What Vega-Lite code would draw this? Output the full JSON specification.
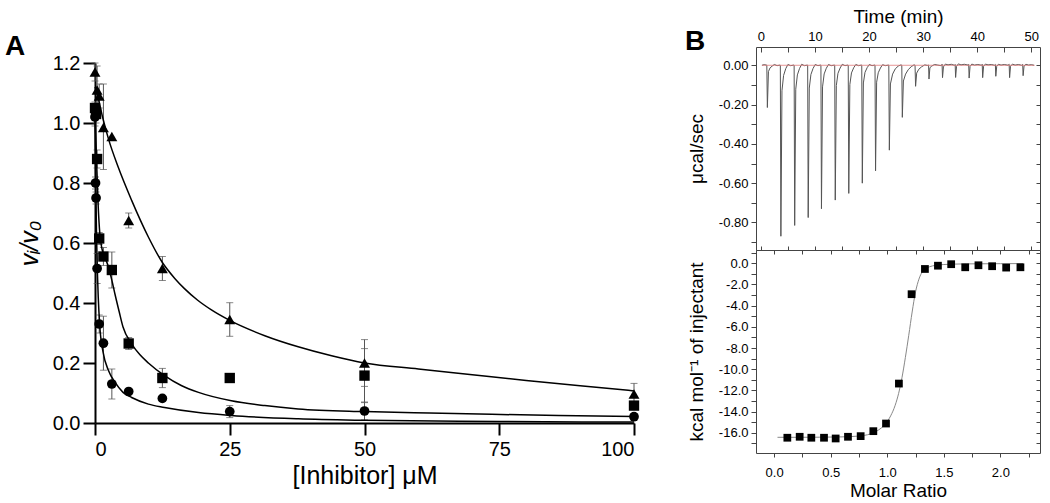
{
  "$schema": "https://vega.github.io/schema/vega-lite/v6.json",
  "padding": {"left": 5, "top": 7, "right": 0, "bottom": 0},
  "background": "white",
  "config": {
    "font": "Liberation Sans",
    "view": {"stroke": null},
    "axis": {"grid": false, "labelColor": "black", "titleColor": "black", "titleFontWeight": "normal", "labelFont": "Liberation Sans", "titleFont": "Liberation Sans"},
    "title": {"color": "black", "font": "Liberation Sans"}
  },
  "datasets": {
    "A_points": [
      {"s": "tri", "x": 0, "y": 1.17, "lo": 1.14, "hi": 1.2},
      {"s": "tri", "x": 0.39, "y": 1.11, "lo": 1.03, "hi": 1.19},
      {"s": "tri", "x": 0.78, "y": 1.09, "lo": 1.05, "hi": 1.13},
      {"s": "tri", "x": 1.56, "y": 0.985, "lo": 0.845, "hi": 1.13},
      {"s": "tri", "x": 3.125, "y": 0.955, "lo": null, "hi": null},
      {"s": "tri", "x": 6.25, "y": 0.675, "lo": 0.65, "hi": 0.7},
      {"s": "tri", "x": 12.5, "y": 0.515, "lo": 0.475, "hi": 0.555},
      {"s": "tri", "x": 25, "y": 0.345, "lo": 0.289, "hi": 0.401},
      {"s": "tri", "x": 50, "y": 0.2, "lo": 0.122, "hi": 0.278},
      {"s": "tri", "x": 100, "y": 0.097, "lo": 0.062, "hi": 0.132},
      {"s": "sq", "x": 0, "y": 1.05, "lo": 1.03, "hi": 1.07},
      {"s": "sq", "x": 0.195, "y": 1.03, "lo": 1.0, "hi": 1.06},
      {"s": "sq", "x": 0.39, "y": 0.88, "lo": 0.85, "hi": 0.91},
      {"s": "sq", "x": 0.78, "y": 0.615, "lo": 0.595, "hi": 0.635},
      {"s": "sq", "x": 1.56, "y": 0.555, "lo": 0.525, "hi": 0.585},
      {"s": "sq", "x": 3.125, "y": 0.51, "lo": 0.45, "hi": 0.57},
      {"s": "sq", "x": 6.25, "y": 0.265, "lo": 0.245, "hi": 0.285},
      {"s": "sq", "x": 12.5, "y": 0.15, "lo": 0.118, "hi": 0.182},
      {"s": "sq", "x": 25, "y": 0.15, "lo": 0.135, "hi": 0.165},
      {"s": "sq", "x": 50, "y": 0.158, "lo": 0.068, "hi": 0.248},
      {"s": "sq", "x": 100, "y": 0.058, "lo": 0.046, "hi": 0.07},
      {"s": "ci", "x": 0, "y": 1.02, "lo": 0.99, "hi": 1.05},
      {"s": "ci", "x": 0.098, "y": 0.8, "lo": 0.78, "hi": 0.82},
      {"s": "ci", "x": 0.195, "y": 0.75, "lo": 0.73, "hi": 0.77},
      {"s": "ci", "x": 0.39, "y": 0.515, "lo": 0.465, "hi": 0.565},
      {"s": "ci", "x": 0.78, "y": 0.33, "lo": 0.3, "hi": 0.36},
      {"s": "ci", "x": 1.56, "y": 0.266, "lo": 0.176, "hi": 0.356},
      {"s": "ci", "x": 3.125, "y": 0.13, "lo": 0.08, "hi": 0.18},
      {"s": "ci", "x": 6.25, "y": 0.105, "lo": null, "hi": null},
      {"s": "ci", "x": 12.5, "y": 0.082, "lo": null, "hi": null},
      {"s": "ci", "x": 25, "y": 0.038, "lo": 0.018, "hi": 0.058},
      {"s": "ci", "x": 50, "y": 0.04, "lo": 0.01, "hi": 0.07},
      {"s": "ci", "x": 100, "y": 0.021, "lo": 0.011, "hi": 0.031}
    ],
    "A_curves": [
      {"s": "tri", "x": 0, "y": 1.12}, {"s": "tri", "x": 0.5, "y": 1.09}, {"s": "tri", "x": 1.4, "y": 1.02},
      {"s": "tri", "x": 2.5, "y": 0.947}, {"s": "tri", "x": 4.3, "y": 0.853}, {"s": "tri", "x": 6.8, "y": 0.742},
      {"s": "tri", "x": 9.9, "y": 0.62}, {"s": "tri", "x": 12.5, "y": 0.535}, {"s": "tri", "x": 14.8, "y": 0.482},
      {"s": "tri", "x": 16.6, "y": 0.448}, {"s": "tri", "x": 19, "y": 0.41}, {"s": "tri", "x": 21.6, "y": 0.377}, {"s": "tri", "x": 25, "y": 0.342},
      {"s": "tri", "x": 31.5, "y": 0.291}, {"s": "tri", "x": 37.7, "y": 0.254}, {"s": "tri", "x": 43.9, "y": 0.224},
      {"s": "tri", "x": 50, "y": 0.2}, {"s": "tri", "x": 60, "y": 0.18}, {"s": "tri", "x": 70, "y": 0.161},
      {"s": "tri", "x": 80, "y": 0.142}, {"s": "tri", "x": 90, "y": 0.124}, {"s": "tri", "x": 100, "y": 0.107},
      {"s": "sq", "x": 0, "y": 1.04}, {"s": "sq", "x": 0.3, "y": 0.87}, {"s": "sq", "x": 0.6, "y": 0.72},
      {"s": "sq", "x": 0.9, "y": 0.63}, {"s": "sq", "x": 1.3, "y": 0.58}, {"s": "sq", "x": 1.9, "y": 0.55},
      {"s": "sq", "x": 2.5, "y": 0.52}, {"s": "sq", "x": 3.2, "y": 0.47}, {"s": "sq", "x": 3.7, "y": 0.43},
      {"s": "sq", "x": 4.5, "y": 0.37}, {"s": "sq", "x": 5.2, "y": 0.32}, {"s": "sq", "x": 6.8, "y": 0.264},
      {"s": "sq", "x": 8.3, "y": 0.228}, {"s": "sq", "x": 9.9, "y": 0.2}, {"s": "sq", "x": 12.9, "y": 0.158},
      {"s": "sq", "x": 16, "y": 0.125}, {"s": "sq", "x": 19.2, "y": 0.102}, {"s": "sq", "x": 25.3, "y": 0.074},
      {"s": "sq", "x": 31.5, "y": 0.058}, {"s": "sq", "x": 37.7, "y": 0.047}, {"s": "sq", "x": 50, "y": 0.038},
      {"s": "sq", "x": 62, "y": 0.033}, {"s": "sq", "x": 73.6, "y": 0.029}, {"s": "sq", "x": 86, "y": 0.025},
      {"s": "sq", "x": 100, "y": 0.022},
      {"s": "ci", "x": 0, "y": 1.02}, {"s": "ci", "x": 0.1, "y": 0.85}, {"s": "ci", "x": 0.2, "y": 0.72},
      {"s": "ci", "x": 0.3, "y": 0.61}, {"s": "ci", "x": 0.45, "y": 0.5}, {"s": "ci", "x": 0.6, "y": 0.42},
      {"s": "ci", "x": 0.9, "y": 0.32}, {"s": "ci", "x": 1.5, "y": 0.236}, {"s": "ci", "x": 2.5, "y": 0.175},
      {"s": "ci", "x": 3.7, "y": 0.136}, {"s": "ci", "x": 5.2, "y": 0.102}, {"s": "ci", "x": 6.8, "y": 0.085},
      {"s": "ci", "x": 9.9, "y": 0.063}, {"s": "ci", "x": 12.9, "y": 0.052}, {"s": "ci", "x": 19.2, "y": 0.035},
      {"s": "ci", "x": 25.3, "y": 0.025}, {"s": "ci", "x": 37.7, "y": 0.014}, {"s": "ci", "x": 50, "y": 0.009},
      {"s": "ci", "x": 75, "y": 0.005}, {"s": "ci", "x": 100, "y": 0.003}
    ],
    "B_trace": [
      {"t": 0.2, "p": 0.0}, {"t": 0.6, "p": 0.003}, {"t": 1.05, "p": 0.001},
      {"t": 1.1, "p": 0.0}, {"t": 1.2, "p": -0.215}, {"t": 1.4, "p": -0.032}, {"t": 1.7, "p": -0.013}, {"t": 2.1, "p": -0.004}, {"t": 2.5, "p": 0.004}, {"t": 3.0, "p": -0.002},
      {"t": 3.55, "p": 0.001}, {"t": 3.6, "p": 0.0}, {"t": 3.7, "p": -0.87}, {"t": 3.9, "p": -0.13}, {"t": 4.2, "p": -0.052}, {"t": 4.6, "p": -0.017}, {"t": 5.0, "p": 0.004}, {"t": 5.5, "p": -0.002},
      {"t": 6.1, "p": 0.001}, {"t": 6.15, "p": 0.0}, {"t": 6.25, "p": -0.815}, {"t": 6.45, "p": -0.122}, {"t": 6.75, "p": -0.049}, {"t": 7.15, "p": -0.016}, {"t": 7.55, "p": 0.005}, {"t": 8.05, "p": -0.002},
      {"t": 8.6, "p": 0.001}, {"t": 8.65, "p": 0.0}, {"t": 8.75, "p": -0.775}, {"t": 8.95, "p": -0.116}, {"t": 9.25, "p": -0.047}, {"t": 9.65, "p": -0.016}, {"t": 10.05, "p": 0.004}, {"t": 10.55, "p": -0.002},
      {"t": 11.05, "p": 0.001}, {"t": 11.1, "p": 0.0}, {"t": 11.2, "p": -0.73}, {"t": 11.4, "p": -0.11}, {"t": 11.7, "p": -0.044}, {"t": 12.1, "p": -0.015}, {"t": 12.5, "p": 0.004}, {"t": 13.0, "p": -0.002},
      {"t": 13.6, "p": 0.001}, {"t": 13.65, "p": 0.0}, {"t": 13.75, "p": -0.686}, {"t": 13.95, "p": -0.103}, {"t": 14.25, "p": -0.041}, {"t": 14.65, "p": -0.014}, {"t": 15.05, "p": 0.005}, {"t": 15.55, "p": -0.002},
      {"t": 16.1, "p": 0.001}, {"t": 16.15, "p": 0.0}, {"t": 16.25, "p": -0.652}, {"t": 16.45, "p": -0.098}, {"t": 16.75, "p": -0.039}, {"t": 17.15, "p": -0.013}, {"t": 17.55, "p": 0.004}, {"t": 18.05, "p": -0.002},
      {"t": 18.6, "p": 0.001}, {"t": 18.65, "p": 0.0}, {"t": 18.75, "p": -0.6}, {"t": 18.95, "p": -0.09}, {"t": 19.25, "p": -0.036}, {"t": 19.65, "p": -0.012}, {"t": 20.05, "p": 0.004}, {"t": 20.55, "p": -0.002},
      {"t": 21.05, "p": 0.001}, {"t": 21.1, "p": 0.0}, {"t": 21.2, "p": -0.537}, {"t": 21.4, "p": -0.086}, {"t": 21.7, "p": -0.038}, {"t": 22.1, "p": -0.014}, {"t": 22.5, "p": 0.003}, {"t": 23.0, "p": -0.002},
      {"t": 23.6, "p": 0.001}, {"t": 23.65, "p": 0.0}, {"t": 23.75, "p": -0.432}, {"t": 23.95, "p": -0.095}, {"t": 24.35, "p": -0.045}, {"t": 24.85, "p": -0.018}, {"t": 25.4, "p": -0.004}, {"t": 25.9, "p": 0.002},
      {"t": 26.0, "p": 0.001}, {"t": 26.05, "p": 0.0}, {"t": 26.15, "p": -0.265}, {"t": 26.35, "p": -0.08}, {"t": 26.75, "p": -0.045}, {"t": 27.25, "p": -0.022}, {"t": 27.8, "p": -0.007}, {"t": 28.3, "p": 0.002},
      {"t": 28.45, "p": 0.001}, {"t": 28.5, "p": 0.0}, {"t": 28.6, "p": -0.107}, {"t": 28.8, "p": -0.04}, {"t": 29.2, "p": -0.02}, {"t": 29.7, "p": -0.008}, {"t": 30.3, "p": 0.002}, {"t": 30.8, "p": -0.001},
      {"t": 30.95, "p": 0.002}, {"t": 31.0, "p": 0.0}, {"t": 31.08, "p": -0.07}, {"t": 31.25, "p": -0.012}, {"t": 31.6, "p": -0.004}, {"t": 32.1, "p": 0.004}, {"t": 32.7, "p": 0.001}, {"t": 33.3, "p": -0.002},
      {"t": 33.45, "p": 0.001}, {"t": 33.5, "p": 0.005}, {"t": 33.58, "p": -0.063}, {"t": 33.75, "p": -0.008}, {"t": 34.1, "p": 0.006}, {"t": 34.6, "p": 0.002}, {"t": 35.2, "p": 0.005}, {"t": 35.8, "p": 0.0},
      {"t": 35.92, "p": 0.004}, {"t": 36.0, "p": -0.062}, {"t": 36.17, "p": -0.006}, {"t": 36.5, "p": 0.007}, {"t": 37.0, "p": 0.002}, {"t": 37.6, "p": 0.005}, {"t": 38.3, "p": 0.001},
      {"t": 38.42, "p": 0.004}, {"t": 38.5, "p": -0.065}, {"t": 38.67, "p": -0.006}, {"t": 39.0, "p": 0.006}, {"t": 39.5, "p": 0.001}, {"t": 40.1, "p": 0.004}, {"t": 40.8, "p": 0.0},
      {"t": 40.92, "p": 0.005}, {"t": 41.0, "p": -0.063}, {"t": 41.17, "p": -0.005}, {"t": 41.5, "p": 0.006}, {"t": 42.0, "p": 0.002}, {"t": 42.6, "p": 0.004}, {"t": 43.2, "p": 0.0},
      {"t": 43.35, "p": 0.004}, {"t": 43.43, "p": -0.056}, {"t": 43.6, "p": -0.005}, {"t": 43.9, "p": 0.005}, {"t": 44.4, "p": 0.001}, {"t": 45.0, "p": 0.004}, {"t": 45.7, "p": 0.0},
      {"t": 45.9, "p": 0.005}, {"t": 45.98, "p": -0.063}, {"t": 46.15, "p": -0.005}, {"t": 46.5, "p": 0.006}, {"t": 47.0, "p": 0.001}, {"t": 47.6, "p": 0.004}, {"t": 48.2, "p": 0.0},
      {"t": 48.4, "p": 0.004}, {"t": 48.48, "p": -0.053}, {"t": 48.65, "p": -0.004}, {"t": 49.0, "p": 0.005}, {"t": 49.5, "p": 0.001}, {"t": 50.0, "p": 0.003}, {"t": 50.5, "p": 0.0}
    ],
    "B_base": [{"t": 0.2, "p": 0}, {"t": 50.6, "p": 0}],
    "B_fit": [
      {"m": 0.03, "h": -16.42}, {"m": 0.2, "h": -16.42}, {"m": 0.4, "h": -16.41}, {"m": 0.6, "h": -16.38},
      {"m": 0.75, "h": -16.3}, {"m": 0.85, "h": -16.1}, {"m": 0.92, "h": -15.75}, {"m": 0.98, "h": -15.2},
      {"m": 1.03, "h": -14.4}, {"m": 1.07, "h": -13.4}, {"m": 1.1, "h": -12.3}, {"m": 1.13, "h": -10.8},
      {"m": 1.16, "h": -8.9}, {"m": 1.19, "h": -6.8}, {"m": 1.22, "h": -4.6}, {"m": 1.25, "h": -2.7},
      {"m": 1.28, "h": -1.5}, {"m": 1.31, "h": -0.8}, {"m": 1.35, "h": -0.45}, {"m": 1.4, "h": -0.25},
      {"m": 1.5, "h": -0.12}, {"m": 1.7, "h": -0.06}, {"m": 2.0, "h": -0.04}, {"m": 2.2, "h": -0.03}
    ],
    "B_pts": [
      {"m": 0.117, "h": -16.46}, {"m": 0.226, "h": -16.37}, {"m": 0.329, "h": -16.46}, {"m": 0.441, "h": -16.46},
      {"m": 0.544, "h": -16.53}, {"m": 0.653, "h": -16.37}, {"m": 0.765, "h": -16.31}, {"m": 0.877, "h": -15.84},
      {"m": 0.989, "h": -15.12}, {"m": 1.103, "h": -11.35}, {"m": 1.215, "h": -2.92}, {"m": 1.333, "h": -0.54},
      {"m": 1.448, "h": -0.23}, {"m": 1.565, "h": -0.09}, {"m": 1.689, "h": -0.38}, {"m": 1.806, "h": -0.19},
      {"m": 1.927, "h": -0.28}, {"m": 2.051, "h": -0.41}, {"m": 2.177, "h": -0.38}
    ],
    "empty": []
  },
  "spacing": 45,
  "hconcat": [
    {
      "spacing": 0,
      "bounds": "flush",
      "vconcat": [
        {
          "width": 539,
          "height": 16,
          "data": {"name": "empty"},
          "mark": "point",
          "encoding": {}
        },
        {
          "width": 539,
          "height": 360,
          "title": {"text": "A", "anchor": "start", "frame": "group", "fontSize": 28, "fontWeight": "bold", "dx": -90, "offset": -8},
          "layer": [
            {
              "data": {"name": "A_points"},
              "transform": [{"filter": "isValid(datum.lo)"}],
              "mark": {"type": "errorbar", "ticks": {"size": 7}, "color": "#555", "thickness": 1},
              "encoding": {
                "x": {"field": "x", "type": "quantitative", "scale": {"domain": [0, 100], "nice": false},
                  "axis": {"values": [0, 25, 50, 75, 100], "title": "[Inhibitor] μM", "domainWidth": 2, "domainColor": "black", "tickWidth": 2, "tickColor": "black", "tickSize": 12, "labelFontSize": 20, "titleFontSize": 25, "labelPadding": 4, "titlePadding": 4}},
                "y": {"field": "lo", "type": "quantitative", "scale": {"domain": [0, 1.2], "nice": false},
                  "axis": {"values": [0, 0.2, 0.4, 0.6, 0.8, 1.0, 1.2], "format": ".1f", "title": "vᵢ/v₀", "titleFontStyle": "italic", "domainWidth": 2, "domainColor": "black", "tickWidth": 2, "tickColor": "black", "tickSize": 12, "labelFontSize": 20, "titleFontSize": 25, "labelPadding": 3, "titlePadding": 10}},
                "y2": {"field": "hi"}
              }
            },
            {
              "data": {"name": "A_curves"},
              "mark": {"type": "line", "color": "black", "strokeWidth": 1.5, "interpolate": "monotone"},
              "encoding": {
                "x": {"field": "x", "type": "quantitative", "scale": {"domain": [0, 100], "nice": false},
                  "axis": {"values": [0, 25, 50, 75, 100], "title": "[Inhibitor] μM", "domainWidth": 2, "domainColor": "black", "tickWidth": 2, "tickColor": "black", "tickSize": 12, "labelFontSize": 20, "titleFontSize": 25, "labelPadding": 4, "titlePadding": 4}},
                "y": {"field": "y", "type": "quantitative", "scale": {"domain": [0, 1.2], "nice": false},
                  "axis": {"values": [0, 0.2, 0.4, 0.6, 0.8, 1.0, 1.2], "format": ".1f", "title": "vᵢ/v₀", "titleFontStyle": "italic", "domainWidth": 2, "domainColor": "black", "tickWidth": 2, "tickColor": "black", "tickSize": 12, "labelFontSize": 20, "titleFontSize": 25, "labelPadding": 3, "titlePadding": 10}},
                "detail": {"field": "s"}
              }
            },
            {
              "data": {"name": "A_points"},
              "mark": {"type": "point", "filled": true, "color": "black", "opacity": 1},
              "encoding": {
                "x": {"field": "x", "type": "quantitative", "scale": {"domain": [0, 100], "nice": false},
                  "axis": {"values": [0, 25, 50, 75, 100], "title": "[Inhibitor] μM", "domainWidth": 2, "domainColor": "black", "tickWidth": 2, "tickColor": "black", "tickSize": 12, "labelFontSize": 20, "titleFontSize": 25, "labelPadding": 4, "titlePadding": 4}},
                "y": {"field": "y", "type": "quantitative", "scale": {"domain": [0, 1.2], "nice": false},
                  "axis": {"values": [0, 0.2, 0.4, 0.6, 0.8, 1.0, 1.2], "format": ".1f", "title": "vᵢ/v₀", "titleFontStyle": "italic", "domainWidth": 2, "domainColor": "black", "tickWidth": 2, "tickColor": "black", "tickSize": 12, "labelFontSize": 20, "titleFontSize": 25, "labelPadding": 3, "titlePadding": 10}},
                "shape": {"field": "s", "type": "nominal", "scale": {"domain": ["tri", "sq", "ci"], "range": ["triangle-up", "square", "circle"]}, "legend": null},
                "size": {"field": "s", "type": "nominal", "scale": {"domain": ["tri", "sq", "ci"], "range": [120, 95, 90]}, "legend": null}
              }
            }
          ]
        }
      ]
    },
    {
      "spacing": 0,
      "bounds": "flush",
      "vconcat": [
        {
          "width": 284,
          "height": 203,
          "title": {"text": "B", "anchor": "start", "frame": "group", "fontSize": 28, "fontWeight": "bold", "dx": -71, "dy": 49, "offset": 0},
          "layer": [
            {
              "data": {"name": "B_trace"},
              "mark": {"type": "line", "color": "#555", "strokeWidth": 1},
              "encoding": {
                "x": {"field": "t", "type": "quantitative", "scale": {"domain": [-0.9, 51.6], "nice": false, "zero": false},
                  "axis": {"orient": "bottom", "values": [0, 5, 10, 15, 20, 25, 30, 35, 40, 45, 50], "labels": false, "title": null, "tickSize": -4, "domainColor": "#444", "tickColor": "#444"}},
                "y": {"field": "p", "type": "quantitative", "scale": {"domain": [-0.94, 0.093], "nice": false, "zero": false},
                  "axis": {"orient": "right", "values": [-0.9, -0.8, -0.7, -0.6, -0.5, -0.4, -0.3, -0.2, -0.1, 0], "labels": false, "title": null, "tickSize": -4, "domainColor": "#444", "tickColor": "#444"}}
              }
            },
            {
              "data": {"name": "B_base"},
              "mark": {"type": "line", "color": "#e07a7a", "strokeWidth": 1, "opacity": 0.8},
              "encoding": {
                "x": {"field": "t", "type": "quantitative", "scale": {"domain": [-0.9, 51.6], "nice": false, "zero": false},
                  "axis": {"orient": "top", "values": [0, 5, 10, 15, 20, 25, 30, 35, 40, 45, 50], "labelExpr": "datum.value % 10 == 0 ? datum.label : ''", "title": "Time (min)", "tickSize": -5, "labelPadding": 9, "labelFontSize": 13, "titleFontSize": 19, "titlePadding": 4, "domainColor": "#444", "tickColor": "#444"}},
                "y": {"field": "p", "type": "quantitative", "scale": {"domain": [-0.94, 0.093], "nice": false, "zero": false},
                  "axis": {"orient": "left", "values": [-0.9, -0.8, -0.7, -0.6, -0.5, -0.4, -0.3, -0.2, -0.1, 0], "labelExpr": "abs(round(datum.value*10)) % 2 == 0 ? replace(format(datum.value, '.2f'), '\u2212', '-') : ''", "title": "μcal/sec", "tickSize": 5, "labelPadding": 3, "labelFontSize": 13, "titleFontSize": 19, "titlePadding": 12, "domainColor": "#444", "tickColor": "#444"}}
              }
            }
          ],
          "resolve": {"axis": {"x": "independent", "y": "independent"}}
        },
        {
          "width": 284,
          "height": 203,
          "layer": [
            {
              "data": {"name": "B_fit"},
              "mark": {"type": "line", "color": "#888", "strokeWidth": 1, "interpolate": "monotone"},
              "encoding": {
                "x": {"field": "m", "type": "quantitative", "scale": {"domain": [-0.16, 2.35], "nice": false, "zero": false},
                  "axis": {"orient": "bottom", "values": [0, 0.25, 0.5, 0.75, 1, 1.25, 1.5, 1.75, 2, 2.25], "labelExpr": "(datum.value*2) % 1 == 0 ? format(datum.value, '.1f') : ''", "title": "Molar Ratio", "tickSize": 4, "labelPadding": 9, "labelFontSize": 13, "titleFontSize": 19, "titlePadding": 2, "domainColor": "#444", "tickColor": "#444"}},
                "y": {"field": "h", "type": "quantitative", "scale": {"domain": [-17.9, 1.25], "nice": false, "zero": false},
                  "axis": {"orient": "left", "values": [-17, -16, -15, -14, -13, -12, -11, -10, -9, -8, -7, -6, -5, -4, -3, -2, -1, 0, 1], "labelExpr": "datum.value % 2 == 0 ? replace(format(datum.value, '.1f'), '\u2212', '-') : ''", "title": "kcal mol⁻¹ of injectant", "tickSize": 5, "labelPadding": 3, "labelFontSize": 13, "titleFontSize": 19, "titlePadding": 12, "domainColor": "#444", "tickColor": "#444"}}
              }
            },
            {
              "data": {"name": "B_pts"},
              "mark": {"type": "square", "color": "black", "size": 60, "opacity": 1},
              "encoding": {
                "x": {"field": "m", "type": "quantitative", "scale": {"domain": [-0.16, 2.35], "nice": false, "zero": false},
                  "axis": {"orient": "top", "values": [0, 0.25, 0.5, 0.75, 1, 1.25, 1.5, 1.75, 2, 2.25], "labels": false, "title": null, "tickSize": -4, "domainColor": "#444", "tickColor": "#444"}},
                "y": {"field": "h", "type": "quantitative", "scale": {"domain": [-17.9, 1.25], "nice": false, "zero": false},
                  "axis": {"orient": "right", "values": [-17, -16, -15, -14, -13, -12, -11, -10, -9, -8, -7, -6, -5, -4, -3, -2, -1, 0, 1], "labels": false, "title": null, "tickSize": -4, "domainColor": "#444", "tickColor": "#444"}}
              }
            }
          ],
          "resolve": {"axis": {"x": "independent", "y": "independent"}}
        }
      ]
    }
  ]
}
